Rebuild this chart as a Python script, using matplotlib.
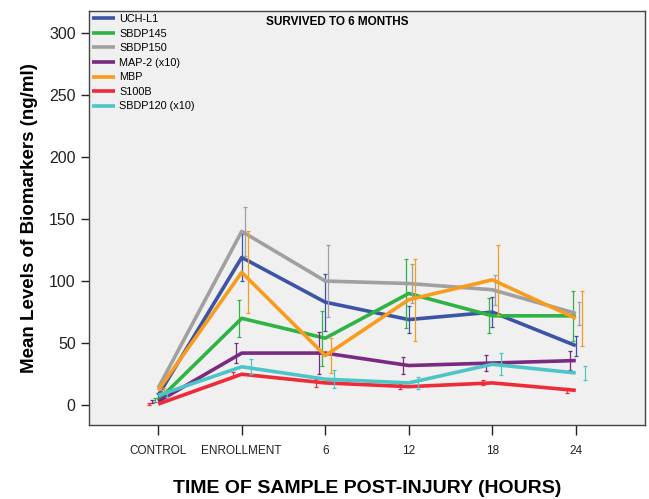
import numpy as np
import matplotlib.pyplot as plt

plt.rcParams['font.family'] = ['Liberation Sans', 'DejaVu Sans']

# time points (categorical positions)
time_labels = ["CONTROL", "ENROLLMENT", "6", "12", "18", "24"]

# mean levels (ng/ml)
uchl1 = [8, 119, 83, 69, 75, 48]
sbdp145 = [4, 70, 54, 90, 72, 72]
sbdp150 = [14, 140, 100, 98, 93, 74]
map2 = [3, 42, 42, 32, 34, 36]
mbp = [12, 107, 40, 85, 101, 70]
s100b = [1, 25, 18, 15, 18, 12]
sbdp120 = [8, 31, 21, 18, 33, 26]

# error bar half-widths
uchl1_err = [2, 19, 23, 11, 12, 8]
sbdp145_err = [1.5, 15, 22, 28, 14, 20]
sbdp150_err = [2, 20, 29, 16, 12, 9]
map2_err = [1, 8, 17, 7, 6.5, 7.5]
mbp_err = [2, 33, 14, 33, 28, 22]
s100b_err = [1, 2, 3, 2, 2, 2]
sbdp120_err = [1.5, 6, 7, 5, 9, 6]

series = [
    ("UCH-L1", uchl1, uchl1_err, "#3b54a5", 0.0),
    ("SBDP145", sbdp145, sbdp145_err, "#2fb344", -0.036),
    ("SBDP150", sbdp150, sbdp150_err, "#a0a0a0", 0.036),
    ("MAP-2 (x10)", map2, map2_err, "#7a2a83", -0.072),
    ("MBP", mbp, mbp_err, "#f99b1c", 0.072),
    ("S100B", s100b, s100b_err, "#ee2b38", -0.108),
    ("SBDP120 (x10)", sbdp120, sbdp120_err, "#4cc5c9", 0.108),
]

x = np.arange(len(time_labels))

fig = plt.figure(figsize=(6.49, 4.99), dpi=100)
ax = fig.add_axes([0.137, 0.148, 0.857, 0.829])
ax.set_facecolor("#f0f0f0")

for name, vals, err, color, off in series:
    ax.plot(x, vals, color=color, lw=2.6, label=name, solid_capstyle='butt')
    ax.errorbar(x + off, vals, yerr=err, fmt='none', ecolor=color,
                elinewidth=0.9, capsize=1.2, capthick=0.9)

ax.set_xlim(-0.83, 5.83)
ax.set_ylim(-16, 317)
ax.set_xticks(x)
ax.set_xticklabels(time_labels, fontsize=8.5)
ax.set_yticks(np.arange(0, 301, 50))
ax.tick_params(axis='y', labelsize=11.5, length=6, width=1, colors='#222222')
ax.tick_params(axis='x', length=7, width=1, pad=7, colors='#222222')
for sp in ax.spines.values():
    sp.set_color('#444444')
    sp.set_linewidth(1)

ax.set_ylabel("Mean Levels of Biomarkers (ng/ml)", fontsize=13.5,
              fontweight='bold', labelpad=8)
ax.set_xlabel("TIME OF SAMPLE POST-INJURY (HOURS)", fontsize=14,
              fontweight='bold', labelpad=17)

ax.text(0.446, 0.988, "SURVIVED TO 6 MONTHS", transform=ax.transAxes,
        ha='center', va='top', fontsize=8.5, fontweight='bold',
        family=['Liberation Sans Narrow', 'Liberation Sans', 'DejaVu Sans'])

leg = ax.legend(loc='upper left', frameon=False, fontsize=7.8,
                handlelength=2.2, handletextpad=0.35, labelspacing=0.42,
                borderaxespad=0.15, borderpad=0.1)

fig.savefig("out.png", dpi=100)
